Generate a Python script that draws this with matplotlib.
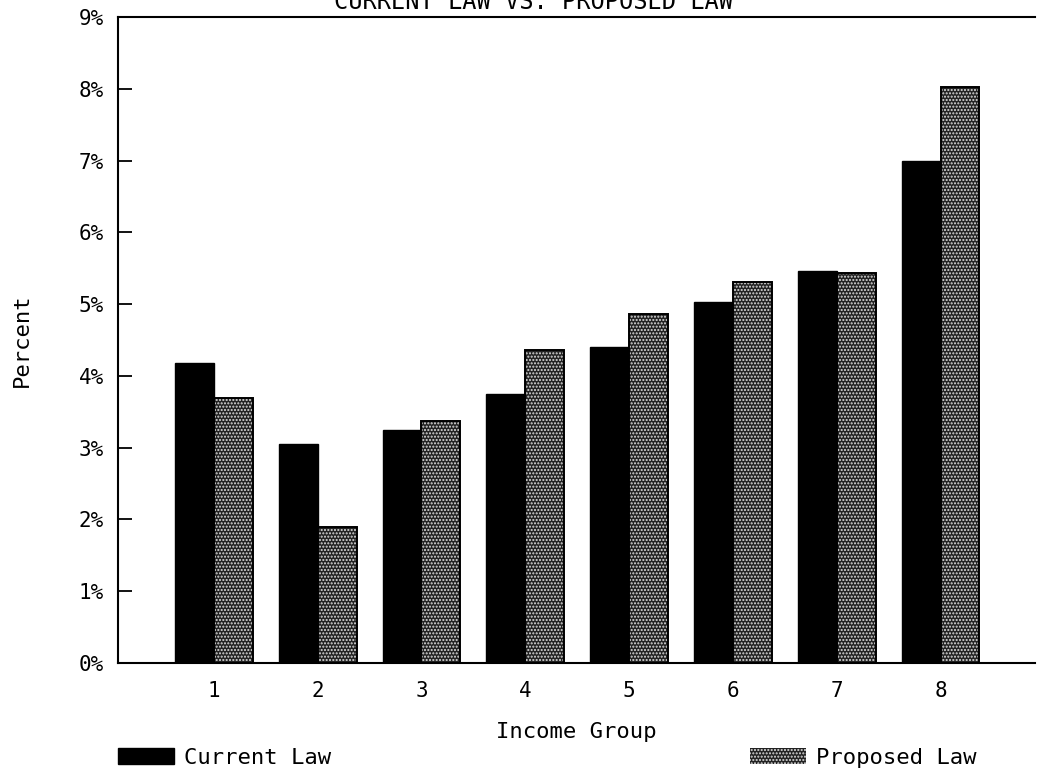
import matplotlib
matplotlib.use('Agg')
import matplotlib.pyplot as plt
import numpy as np
from matplotlib.patches import Patch
from matplotlib.ticker import FuncFormatter

groups = [1, 2, 3, 4, 5, 6, 7, 8]
current_law = [4.18, 3.05, 3.25, 3.75, 4.40, 5.03, 5.46, 7.00]
proposed_law = [3.69, 1.89, 3.37, 4.36, 4.86, 5.31, 5.43, 8.02]
title = 'CURRENT LAW VS. PROPOSED LAW'

plt.rcParams['font.family'] = ['DejaVu Sans Mono']
plt.rcParams['hatch.linewidth'] = 1.0

fig = plt.figure(figsize=(10.38, 7.77), dpi=100)
ax = fig.add_axes([118 / 1038, 1 - 663 / 777, 917 / 1038, 646 / 777])

x = np.array(groups, dtype=float)
w = 0.375

ax.bar(x - w / 2, current_law, w, color='black', edgecolor='black', linewidth=1)
# dotted texture for the proposed bars, then a black outline on top
ax.bar(x + w / 2, proposed_law, w, color='#222222', edgecolor='#dddddd', linewidth=0, hatch='.....')
ax.bar(x + w / 2, proposed_law, w, fill=False, edgecolor='black', linewidth=1.4)

ax.set_xlim(0.077, 8.91)
ax.set_ylim(0, 9)
ax.set_xticks(groups)
ax.set_yticks(range(0, 10))
ax.yaxis.set_major_formatter(FuncFormatter(lambda v, p: f'{int(v)}%'))

ax.spines['right'].set_visible(False)
for s in ['left', 'top', 'bottom']:
    ax.spines[s].set_linewidth(1.5)
ax.tick_params(axis='y', direction='in', length=10, width=1.3, pad=10, labelsize=15)
ax.tick_params(axis='x', length=0, pad=13, labelsize=15)

ax.set_ylabel('Percent', fontsize=16)
ax.yaxis.set_label_coords(-0.094, 0.5)
ax.set_xlabel('Income Group', fontsize=16)
ax.xaxis.set_label_coords(0.5, -0.092)

fig.text(534 / 1038, 1 - 9 / 777, title, ha='center', va='baseline', fontsize=17)

h1 = Patch(facecolor='black', edgecolor='black')
h2 = Patch(facecolor='#222222', edgecolor='#dddddd', hatch='.....', linewidth=0)
leg1 = fig.legend([h1], ['Current Law'], loc='center left', bbox_to_anchor=(118 / 1038, 1 - 758 / 777),
                  frameon=False, borderpad=0, borderaxespad=0, handlelength=2.5, handleheight=0.7,
                  handletextpad=0.45, fontsize=16)
leg2 = fig.legend([h2], ['Proposed Law'], loc='center left', bbox_to_anchor=(750 / 1038, 1 - 758 / 777),
                  frameon=False, borderpad=0, borderaxespad=0, handlelength=2.5, handleheight=0.7,
                  handletextpad=0.45, fontsize=16)

fig.savefig('out.png', dpi=100)
